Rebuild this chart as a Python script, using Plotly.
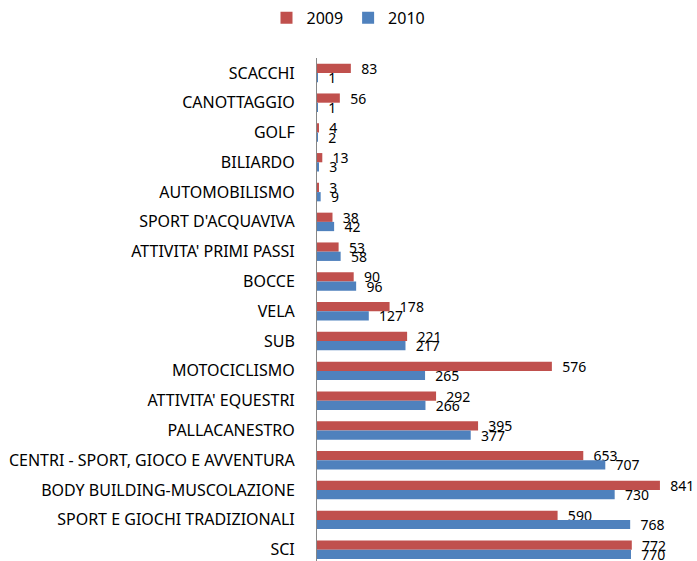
import plotly.graph_objects as go

categories = [
    "SCACCHI", "CANOTTAGGIO", "GOLF", "BILIARDO", "AUTOMOBILISMO",
    "SPORT D'ACQUAVIVA", "ATTIVITA' PRIMI PASSI", "BOCCE", "VELA", "SUB",
    "MOTOCICLISMO", "ATTIVITA' EQUESTRI", "PALLACANESTRO",
    "CENTRI - SPORT, GIOCO E AVVENTURA", "BODY BUILDING-MUSCOLAZIONE",
    "SPORT E GIOCHI TRADIZIONALI", "SCI",
]
values_2009 = [83, 56, 4, 13, 3, 38, 53, 90, 178, 221, 576, 292, 395, 653, 841, 590, 772]
values_2010 = [1, 1, 2, 3, 9, 42, 58, 96, 127, 217, 265, 266, 377, 707, 730, 768, 770]

FONT = "Noto Sans"

fig = go.Figure()
for name, vals, color in [("2009", values_2009, "#C0504D"), ("2010", values_2010, "#4F81BD")]:
    fig.add_bar(
        y=categories,
        x=vals,
        name=name,
        orientation="h",
        marker={"color": color, "line": {"width": 0}},
        text=["  " + str(v) for v in vals],
        textposition="outside",
        constraintext="none",
        textfont={"family": FONT, "size": 14, "color": "#000000"},
        cliponaxis=False,
    )

fig.update_layout(
    width=697,
    height=561,
    paper_bgcolor="white",
    plot_bgcolor="white",
    barmode="group",
    bargap=0.38,
    bargroupgap=0,
    font={"family": FONT, "size": 14, "color": "#000000"},
    margin={"l": 317, "r": 13, "t": 58, "b": 0, "autoexpand": False},
    legend={
        "orientation": "h",
        "x": 0.5,
        "xref": "container",
        "xanchor": "center",
        "y": 1.08,
        "yref": "paper",
        "yanchor": "middle",
        "font": {"family": FONT, "size": 16},
    },
    showlegend=True,
)
fig.update_xaxes(range=[0, 900], visible=False)
fig.update_yaxes(
    range=[16.38, -0.5],
    showline=True,
    linecolor="#868686",
    linewidth=1,
    showgrid=False,
    ticks="",
    ticklabelstandoff=18,
    automargin=False,
    tickfont={"family": FONT, "size": 16},
)
# page has a default 8px body margin; drop it so the figure fills the window
fig.write_html(
    "out.html",
    config={"displayModeBar": False},
    post_script="document.body.style.margin='0';document.body.style.overflow='hidden';",
)
